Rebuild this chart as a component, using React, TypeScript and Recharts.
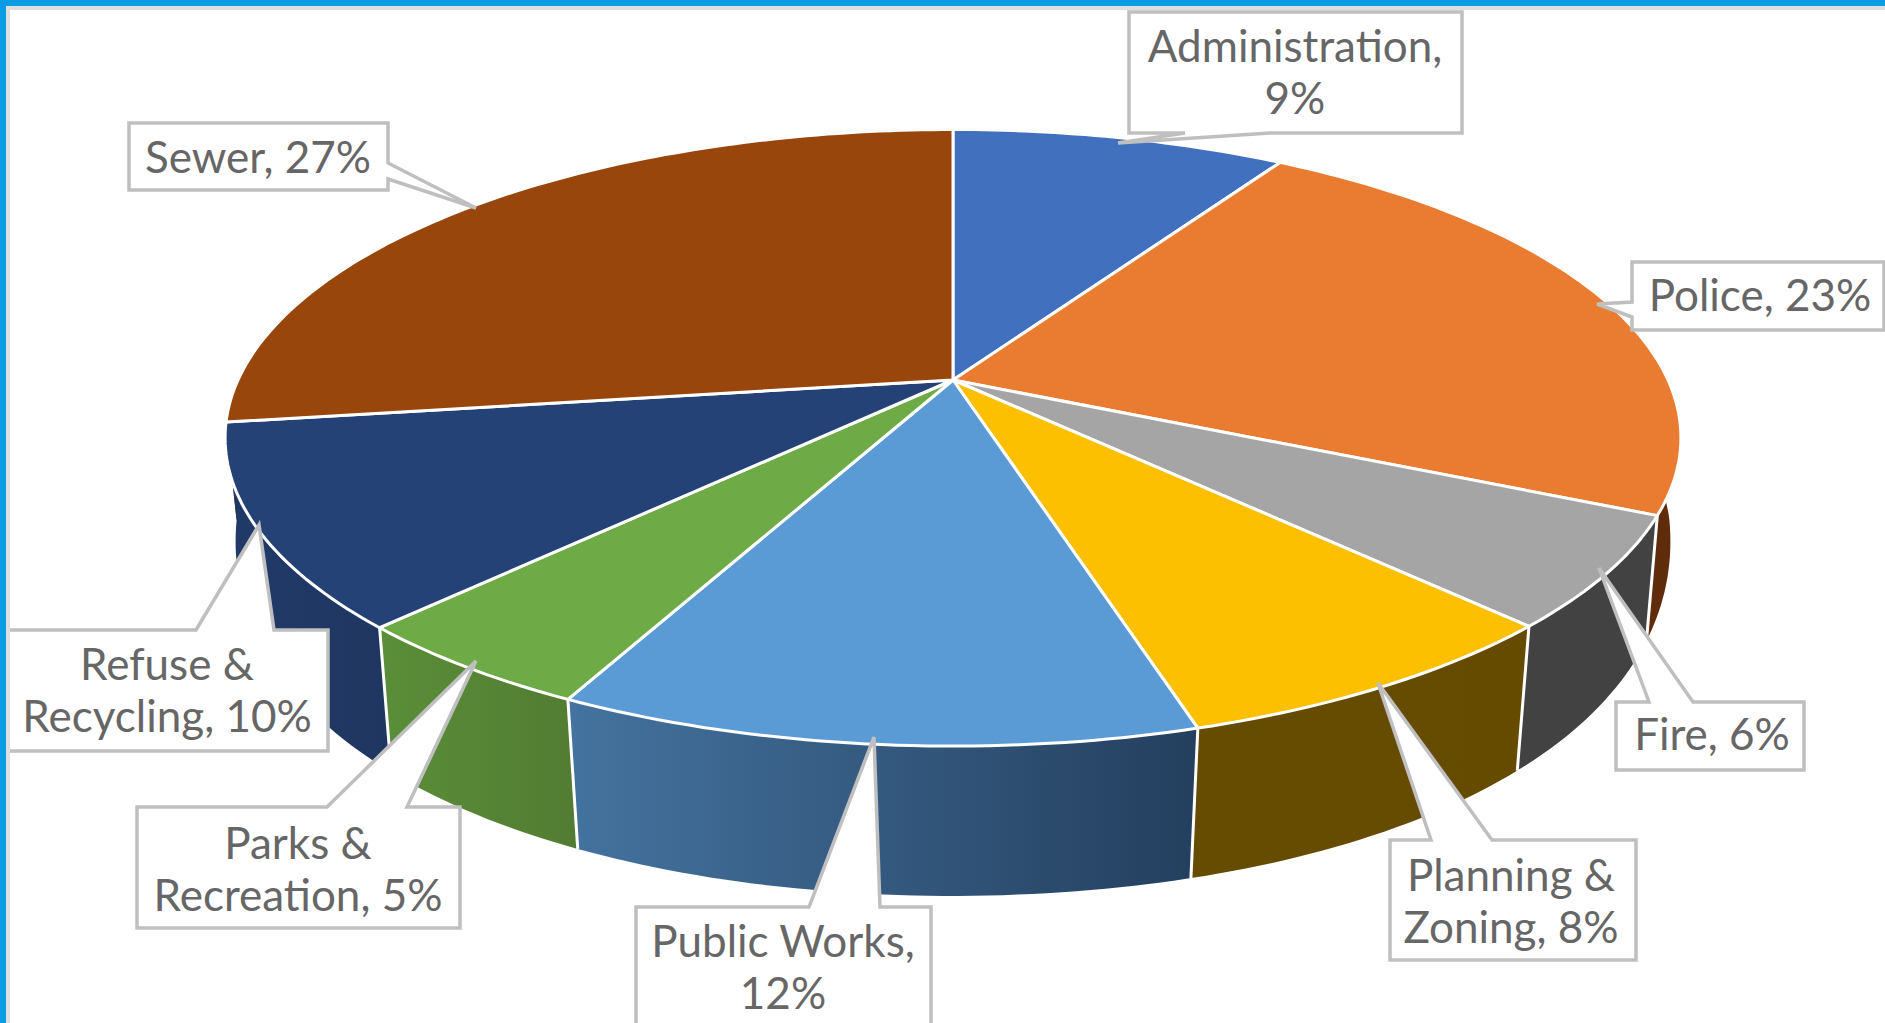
import React from "react";
import { PieChart, Pie } from "recharts";

const categories = ["Administration", "Police", "Fire", "Planning & Zoning", "Public Works", "Parks & Recreation", "Refuse & Recycling", "Sewer"];
const shares = [8.9, 23.0, 5.82, 7.75, 11.93, 4.8, 10.6, 27.2];
const topColors = ["#4170BF", "#E97C30", "#A5A5A5", "#FCC000", "#5B9BD5", "#6EAB46", "#254276", "#98460C"];
const wallFrom = ["#2A4A80", "#6A3210", "#424242", "#664C00", "#44739F", "#5A8E38", "#203A68", "#1F3660"];
const wallTo = ["#2A4A80", "#5F2C0B", "#424242", "#644B00", "#243F5E", "#527C33", "#1F3660", "#1F3660"];
const labelLines = [
  ["Administration,", "9%"],
  ["Police, 23%"],
  ["Fire, 6%"],
  ["Planning &", "Zoning, 8%"],
  ["Public Works,", "12%"],
  ["Parks &", "Recreation, 5%"],
  ["Refuse &", "Recycling, 10%"],
  ["Sewer, 27%"],
];

const W = 1885;
const H = 1023;
const CX = 953;
const CY = 380;
const R = 715;
const RY = 0.416;
const P = 0.1875;
const FONT = 44;
const LINE = 52;

type Pt = [number, number];
type Callout = { text: Pt; outline: Pt[] };

const callouts: Callout[] = [
  { text: [1295, 62], outline: [[1129, 12], [1462, 12], [1462, 133], [1270, 133], [1118, 143], [1185, 133], [1129, 133]] },
  { text: [1760, 311], outline: [[1632, 262], [1884, 262], [1884, 330], [1632, 330], [1632, 317], [1597, 304], [1632, 302]] },
  { text: [1712, 750], outline: [[1616, 702], [1649, 702], [1599, 568], [1693, 702], [1804, 702], [1804, 770], [1616, 770]] },
  { text: [1511, 891], outline: [[1390, 840], [1431, 840], [1378, 683], [1492, 840], [1636, 840], [1636, 960], [1390, 960]] },
  { text: [783, 957], outline: [[636, 907], [809, 907], [874, 737], [880, 907], [931, 907], [931, 1040], [636, 1040]] },
  { text: [298, 859], outline: [[137, 807], [327, 807], [476, 661], [407, 807], [460, 807], [460, 928], [137, 928]] },
  { text: [167, 680], outline: [[4, 630], [196, 630], [259, 525], [274, 630], [328, 630], [328, 751], [4, 751]] },
  { text: [258, 173], outline: [[129, 123], [388, 123], [388, 163], [476, 208], [388, 179], [388, 190], [129, 190]] },
];

const project = (cx: number, cy: number, r: number, deg: number): Pt => {
  const t = ((90 - deg) * Math.PI) / 180;
  const u = Math.sin(t);
  const v = -Math.cos(t);
  const w = 1 - P * v;
  return [cx + (r * u) / w, cy + (r * RY * v) / w];
};

// The underside of the disc, seen from the same camera.
const lower = (cx: number, cy: number, r: number, p: Pt): Pt => {
  const d = (p[0] - cx) / r;
  const s = 0.97 + 0.015 * d * d;
  const off = Math.min(348 - (p[1] - cy), 308);
  return [cx + s * (p[0] - cx), p[1] + 150 - 0.00055 * off * off];
};

const arc = (cx: number, cy: number, r: number, a: number, b: number): Pt[] => {
  const n = Math.max(2, Math.ceil(Math.abs(a - b)));
  const pts: Pt[] = [];
  for (let i = 0; i <= n; i++) pts.push(project(cx, cy, r, a + ((b - a) * i) / n));
  return pts;
};

const toPath = (pts: Pt[]) => "M" + pts.map((p) => `${p[0].toFixed(1)},${p[1].toFixed(1)}`).join("L") + "Z";

const TopFace = (props: any) => {
  const { cx, cy, outerRadius, startAngle, endAngle, fill } = props;
  const pts = [[cx, cy] as Pt, ...arc(cx, cy, outerRadius, startAngle, endAngle)];
  return <path d={toPath(pts)} fill={fill} stroke="#FFFFFF" strokeWidth={3} strokeLinejoin="round" />;
};

const Wall = (props: any) => {
  const { cx, cy, outerRadius, startAngle, endAngle, index } = props;
  const top = arc(cx, cy, outerRadius, startAngle, endAngle);
  const bottom = top.map((p) => lower(cx, cy, outerRadius, p)).reverse();
  const id = `wall-${index}`;
  const v = -Math.cos(((90 - startAngle) * Math.PI) / 180);
  const s = top[0];
  const b = lower(cx, cy, outerRadius, s);
  return (
    <g>
      <linearGradient id={id} x1="0" y1="0" x2="1" y2="0">
        <stop offset="0" stopColor={wallFrom[index]} />
        <stop offset="1" stopColor={wallTo[index]} />
      </linearGradient>
      <path d={toPath([...top, ...bottom])} fill={`url(#${id})`} stroke="none" />
      {v > 0.3 && <line x1={s[0]} y1={s[1]} x2={b[0]} y2={b[1]} stroke="#FFFFFF" strokeWidth={3} />}
    </g>
  );
};

const renderLabel = (props: any) => {
  const i = props.index as number;
  const c = callouts[i];
  return (
    <g key={i}>
      <path d={toPath(c.outline)} fill="#FFFFFF" stroke="#BFBFBF" strokeWidth={3.5} strokeLinejoin="miter" />
      {labelLines[i].map((line, k) => (
        <text
          key={k}
          x={c.text[0]}
          y={c.text[1] + k * LINE}
          textAnchor="middle"
          fontFamily="Lato, sans-serif"
          fontSize={FONT}
          fill="#666666"
        >
          {line}
        </text>
      ))}
    </g>
  );
};

const data = categories.map((name, i) => ({ name, value: shares[i], fill: topColors[i] }));

export default function App() {
  return (
    <div style={{ position: "fixed", left: 0, top: 0, width: W, height: H, background: "#FFFFFF", overflow: "hidden" }}>
      <PieChart width={W} height={H} margin={{ top: 0, right: 0, bottom: 0, left: 0 }}>
        <Pie
          data={data}
          dataKey="value"
          nameKey="name"
          cx={CX}
          cy={CY}
          outerRadius={R}
          startAngle={90}
          endAngle={-270}
          stroke="none"
          isAnimationActive={false}
          shape={Wall}
          rootTabIndex={-1}
        />
        <Pie
          data={data}
          dataKey="value"
          nameKey="name"
          cx={CX}
          cy={CY}
          outerRadius={R}
          startAngle={90}
          endAngle={-270}
          stroke="none"
          isAnimationActive={false}
          shape={TopFace}
          label={renderLabel}
          labelLine={false}
          rootTabIndex={-1}
        />
      </PieChart>
      <div style={{ position: "absolute", left: 6, top: 6, right: 0, height: 4, background: "#DEDEDE" }} />
      <div style={{ position: "absolute", left: 6, top: 6, bottom: 0, width: 4, background: "#DEDEDE" }} />
      <div style={{ position: "absolute", left: 0, top: 0, right: 0, height: 6, background: "#0A9BE2" }} />
      <div style={{ position: "absolute", left: 0, top: 0, bottom: 0, width: 6, background: "#0A9BE2" }} />
    </div>
  );
}
